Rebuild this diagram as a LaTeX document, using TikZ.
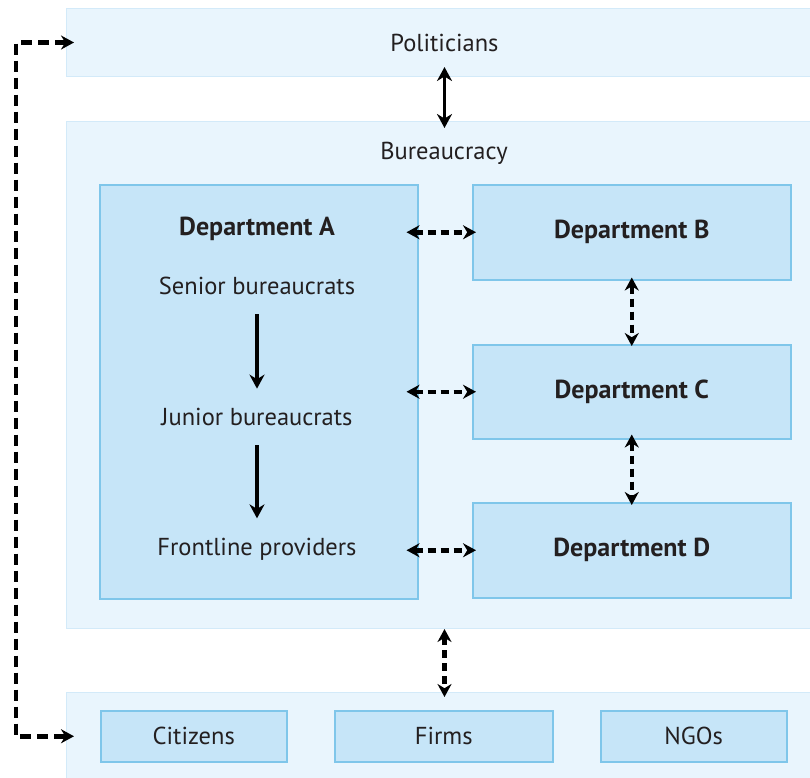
\documentclass[tikz,border=0pt]{standalone}
\usepackage{fontspec}
\setmainfont{PT Sans}
\usetikzlibrary{arrows.meta,positioning}
\definecolor{BandFill}{HTML}{E9F5FD}
\definecolor{BandLine}{HTML}{D3EAF9}
\definecolor{BoxFill}{HTML}{C6E5F8}
\definecolor{BoxLine}{HTML}{7FC6EA}
\definecolor{Ink}{HTML}{231F20}

\begin{document}
\begin{tikzpicture}[x=1pt,y=-1pt,
    every node/.style={font=\fontsize{24.5}{29}\selectfont,text=Ink},
    head/.style={font=\fontsize{26}{31}\selectfont\bfseries},
    band/.style={draw=BandLine,fill=BandFill,line width=1pt,anchor=north west,
      minimum width=756pt,inner sep=0pt},
    dept/.style={draw=BoxLine,fill=BoxFill,line width=1.5pt,anchor=north west,
      minimum width=318pt,inner sep=0pt},
    actor/.style={draw=BoxLine,fill=BoxFill,line width=1.5pt,anchor=north west,
      minimum height=51pt,inner sep=0pt},
    dbl/.style={{Stealth[length=14pt,width=15pt]}-{Stealth[length=14pt,width=15pt]},line width=3.2pt},
    one/.style={-{Stealth[length=14pt,width=15pt]},line width=3.2pt},
    dsh/.style={{Stealth[length=13pt,width=14pt]}-{Stealth[length=13pt,width=14pt]},
      line width=4.5pt,dash pattern=on 8pt off 5pt},
    longdsh/.style={dsh,dash pattern=on 11pt off 6pt}]
  \useasboundingbox (0,0) rectangle (810,777);

  % outer bands
  \node[band,minimum height=68pt] (pol) at (66,8) {};
  \node at (pol.center) (pollbl) {Politicians};
  \node[band,minimum height=507pt] (bur) at (66,121) {};
  \node at (444,153) (burlbl) {Bureaucracy};
  \node[band,minimum height=98pt] (soc) at (66,692) {};

  % departments
  \node[dept,minimum height=414pt] (deptA) at (99,184) {};
  \node[head] at (257,229) (titleA) {Department A};
  \node at (257,286) (sen) {Senior bureaucrats};
  \node at (257,417) (jun) {Junior bureaucrats};
  \node at (257,549) (fro) {Frontline providers};
  \node[dept,minimum height=95pt,head] (deptB) at (472,184) {Department B};
  \node[dept,minimum height=94pt,head] (deptC) at (472,344) {Department C};
  \node[dept,minimum height=95pt,head] (deptD) at (472,502) {Department D};

  % society
  \node[actor,minimum width=186pt] (cit) at (100,710) {Citizens};
  \node[actor,minimum width=218pt] (firm) at (334,710) {Firms};
  \node[actor,minimum width=186pt] (ngo) at (600,710) {NGOs};

  % hierarchy inside department A
  \draw[one] ([yshift=-16pt]sen.south) -- ([yshift=16pt]jun.north);
  \draw[one] ([yshift=-16pt]jun.south) -- ([yshift=16pt]fro.north);

  % links
  \draw[dbl] ([yshift=10pt]pol.south) -- ([yshift=-7pt]bur.north);
  \draw[dsh] (bur.south) -- ([yshift=-5pt]soc.north);
  \draw[dsh] ([xshift=-12pt]deptA.east |- deptB.west) -- ([xshift=4pt]deptB.west);
  \draw[dsh] ([xshift=-12pt]deptA.east |- deptC.west) -- ([xshift=4pt]deptC.west);
  \draw[dsh] ([xshift=-12pt]deptA.east |- deptD.west) -- ([xshift=4pt]deptD.west);
  \draw[dsh] ([yshift=3pt]deptB.south) -- ([yshift=-2pt]deptC.north);
  \draw[dsh] ([yshift=5pt]deptC.south) -- ([yshift=-3pt]deptD.north);
  \coordinate (lft) at (16,0);
  \draw[longdsh] ([xshift=8pt]pol.west) -- (pol.west -| lft) -- (lft |- cit.west)
    -- ([xshift=8pt]soc.west |- cit.west);
\end{tikzpicture}
\end{document}
